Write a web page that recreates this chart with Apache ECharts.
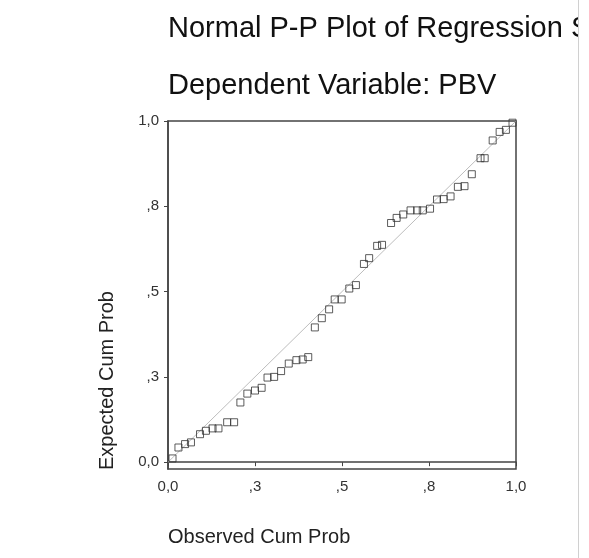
<!DOCTYPE html>
<html>
<head>
<meta charset="utf-8">
<script src="https://cdn.jsdelivr.net/npm/echarts@6/dist/echarts.min.js"></script>
<style>html,body{margin:0;padding:0;background:#fff}#c{width:589px;height:558px}</style>
</head>
<body>
<div id="c"></div>
<script>
var titleText = 'Normal P-P Plot of Regression Standardized Residual';
var subtitleText = 'Dependent Variable: PBV';
var xAxisTitle = 'Observed Cum Prob';
var yAxisTitle = 'Expected Cum Prob';
var tickValues = [0, 0.25, 0.5, 0.75, 1];
var tickLabels = ['0,0', ',3', ',5', ',8', '1,0'];
var observed = [0.013,0.030,0.049,0.066,0.092,0.109,0.128,0.145,0.170,0.190,
  0.208,0.228,0.250,0.269,0.286,0.305,0.325,0.347,0.369,0.387,
  0.403,0.422,0.442,0.463,0.479,0.499,0.521,0.540,0.563,0.578,
  0.601,0.615,0.641,0.657,0.676,0.697,0.716,0.732,0.753,0.773,
  0.792,0.812,0.833,0.852,0.873,0.898,0.910,0.933,0.953,0.971,0.990];
var expected = [0.011,0.043,0.053,0.058,0.082,0.092,0.099,0.099,0.117,0.117,
  0.175,0.201,0.210,0.218,0.248,0.250,0.267,0.289,0.299,0.301,
  0.308,0.395,0.422,0.448,0.477,0.477,0.509,0.519,0.581,0.598,
  0.634,0.637,0.701,0.716,0.726,0.738,0.738,0.738,0.743,0.770,
  0.771,0.779,0.807,0.809,0.844,0.891,0.891,0.943,0.968,0.974,0.995];
var refLineX = [0, 1];
var refLineY = [0, 1];

var points = observed.map(function (v, i) { return [v, expected[i]]; });
var refLine = refLineX.map(function (v, i) { return [v, refLineY[i]]; });
function fmt(v) {
  for (var i = 0; i < tickValues.length; i++) {
    if (Math.abs(tickValues[i] - v) < 1e-9) return tickLabels[i];
  }
  return '';
}
var FONT = '"Liberation Sans", Arial, sans-serif';
var chart = echarts.init(document.getElementById('c'), null, {renderer: 'canvas'});
chart.setOption({
  backgroundColor: '#fff',
  animation: false,
  grid: {left: 168, top: 121, width: 348, height: 348, show: true,
    borderColor: '#444', borderWidth: 1.5, backgroundColor: 'transparent'},
  xAxis: {
    type: 'value', min: 0, max: 1,
    axisLine: {show: true, lineStyle: {color: '#444', width: 1.5}},
    axisTick: {show: true, length: 4, customValues: tickValues, lineStyle: {color: '#444'}},
    axisLabel: {customValues: tickValues, formatter: fmt, color: '#333', fontSize: 15,
      fontFamily: FONT, margin: 10},
    splitLine: {show: false}
  },
  yAxis: {
    type: 'value', min: -0.02, max: 1,
    axisLine: {show: true, lineStyle: {color: '#444', width: 1.5}},
    axisTick: {show: true, length: 4, customValues: tickValues, lineStyle: {color: '#444'}},
    axisLabel: {customValues: tickValues, formatter: fmt, color: '#333', fontSize: 15,
      fontFamily: FONT, margin: 9},
    splitLine: {show: false}
  },
  series: [
    {type: 'line', data: refLine, symbol: 'none', silent: true, z: 1,
      lineStyle: {color: '#bdbdbd', width: 1}},
    {type: 'scatter', data: points, symbol: 'rect', symbolSize: 7, z: 3,
      itemStyle: {color: 'rgba(255,255,255,0)', borderColor: '#333', borderWidth: 1}}
  ],
  graphic: [
    {type: 'text', left: 168, top: 14, z: 10,
      style: {text: titleText, font: '29px ' + FONT, fill: '#111'}},
    {type: 'text', left: 168, top: 71, z: 10,
      style: {text: subtitleText, font: '29px ' + FONT, fill: '#111'}},
    {type: 'text', left: 168, top: 527, z: 10,
      style: {text: xAxisTitle, font: '20px ' + FONT, fill: '#222'}},
    {type: 'text', x: 97, y: 470, rotation: Math.PI / 2, z: 10,
      style: {text: yAxisTitle, font: '20px ' + FONT, fill: '#222', align: 'left', verticalAlign: 'top'}},
    {type: 'rect', shape: {x: 578, y: 0, width: 11, height: 558}, z: 20,
      style: {fill: '#fff'}},
    {type: 'line', shape: {x1: 578.5, y1: 0, x2: 578.5, y2: 558}, z: 21,
      style: {stroke: '#d0d0d0', lineWidth: 1}}
  ]
});
</script>
</body>
</html>
